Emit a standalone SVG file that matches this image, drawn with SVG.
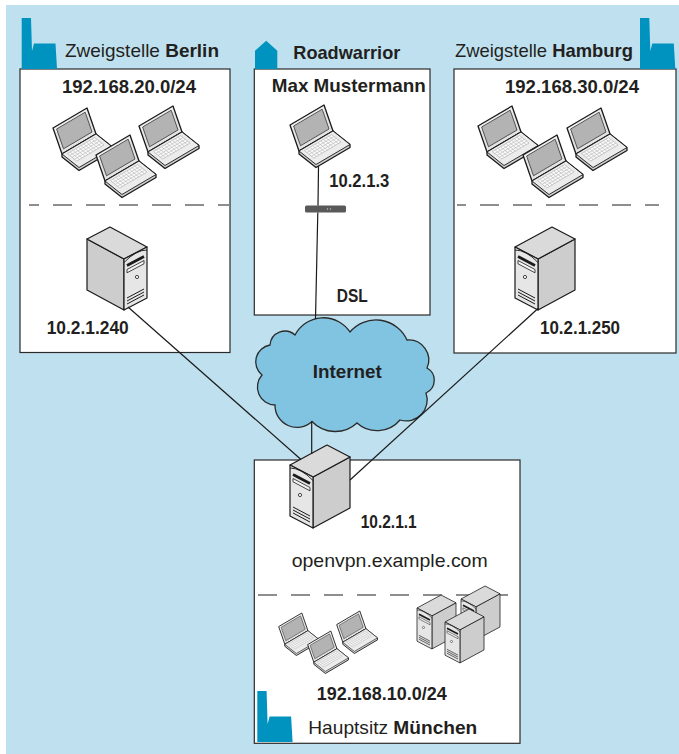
<svg xmlns="http://www.w3.org/2000/svg" xmlns:xlink="http://www.w3.org/1999/xlink" width="679" height="754" viewBox="0 0 679 754">
  <style>
    .bg { fill: #bfe1ef; }
    .box { fill: #ffffff; stroke: #2a2a2a; stroke-width: 1.2; }
    .dash { stroke: #1e1e1e; stroke-width: 1.2; stroke-dasharray: 19 14; fill: none; }
    .icon { fill: #0093bf; }
    .lbl { font-family: "Liberation Sans", Arial, sans-serif; font-size: 18.5px; fill: #231f20; }
    .b { font-weight: bold; }
    .wire { stroke: #1a1a1a; stroke-width: 1.2; fill: none; }
    .cloud { fill: #80c4e2; stroke: #2a2a2a; stroke-width: 1.3; }
  </style>
  <defs>
    <!-- isometric laptop, bounding box about 62 x 63 -->
    <g id="laptop">
      <polygon points="1,20 35,0 44,26 10,46" fill="#e4e4e4" stroke="#1a1a1a" stroke-width="1.3" stroke-linejoin="round"/>
      <polygon points="2.6,20.6 34.2,2 35.6,6 4,24.6" fill="#f4f4f4"/>
      <polygon points="4.6,21 33.2,4.2 40,24 11.5,40.8" fill="#b3b3b3" stroke="#333" stroke-width="0.8"/>
      <polygon points="10,46 44,26 61,39.5 61,42.5 27,62.5 10,49" fill="#cfcfcf" stroke="#1a1a1a" stroke-width="1.3" stroke-linejoin="round"/>
      <polygon points="10,46 44,26 61,39.5 27,59.5" fill="#ececec" stroke="#1a1a1a" stroke-width="0.9" stroke-linejoin="round"/>
      <polygon points="15.4,45.6 42.6,29.6 52,37 24.8,53" fill="#fafafa" stroke="#a8a8a8" stroke-width="0.6"/>
      <path d="M17.8,47.5 L45,31.5 M20.1,49.3 L47.3,33.3 M22.5,51.2 L49.7,35.2 M18.2,44 L27.5,51.5 M20.9,42.4 L30.2,49.9 M23.6,40.8 L33,48.3 M26.3,39.2 L35.7,46.7 M29,37.6 L38.4,45.1 M31.8,36 L41.1,43.5 M34.5,34.4 L43.8,41.9 M37.2,32.8 L46.6,40.3 M39.9,31.2 L49.3,38.7" stroke="#b4b4b4" stroke-width="0.6" fill="none"/>
    </g>
    <!-- tower server, origin at the outer corner of the front panel -->
    <g id="server">
      <polygon points="23,12 60,-8 60,43 23,63" fill="#cdcdcd" stroke="#1a1a1a" stroke-width="1.2" stroke-linejoin="round"/>
      <polygon points="0,0 37,-20 60,-8 23,12" fill="#dadada" stroke="#1a1a1a" stroke-width="1.2" stroke-linejoin="round"/>
      <polygon points="0,0 23,12 23,63 0,51" fill="#e6e6e6" stroke="#1a1a1a" stroke-width="1.2" stroke-linejoin="round"/>
      <path d="M0,3 Q11,3 23,15.5" fill="none" stroke="#1a1a1a" stroke-width="0.9"/>
      <path d="M3,9.5 L20,18.5" stroke="#1a1a1a" stroke-width="2.6"/>
      <polygon points="3,13.5 20,22.5 20,25.8 3,16.8" fill="#f4f4f4" stroke="#1a1a1a" stroke-width="0.8"/>
      <circle cx="10" cy="30" r="1.6" fill="#fff" stroke="#1a1a1a" stroke-width="0.8"/>
      <path d="M3,42 L20,51 M3,45 L20,54 M3,48 L20,57" stroke="#1a1a1a" stroke-width="1"/>
    </g>
    <!-- factory silhouette, origin at bottom left -->
    <path id="factory" d="M0,0 V-51 H9.3 L10.3,-18 L12.3,-25.5 H33.8 L35.3,0 Z"/>
  </defs>

  <rect x="0" y="0" width="679" height="754" fill="#ffffff"/>
  <rect class="bg" x="6" y="5" width="673" height="749"/>

  <g id="berlin">
    <rect class="box" x="20" y="69" width="210" height="283.5"/>
    <use href="#factory" class="icon" transform="translate(21.7,69)"/>
    <text class="lbl" x="65" y="57.3" textLength="154" lengthAdjust="spacingAndGlyphs">Zweigstelle <tspan class="b">Berlin</tspan></text>
    <text class="lbl b" x="62" y="93" textLength="134" lengthAdjust="spacingAndGlyphs">192.168.20.0/24</text>
    <use href="#laptop" transform="translate(52,108)"/>
    <use href="#laptop" transform="translate(138,106)"/>
    <use href="#laptop" transform="translate(95,135)"/>
    <line class="dash" x1="29" y1="205" x2="229" y2="205" stroke-dashoffset="9"/>
    <use href="#server" transform="translate(147,247) scale(-1,1)"/>
    <text class="lbl b" x="46.7" y="334" textLength="82" lengthAdjust="spacingAndGlyphs">10.2.1.240</text>
  </g>

  <g id="roadwarrior">
    <rect class="box" x="254.3" y="69" width="175.7" height="246"/>
    <path class="icon" d="M255,69 V50.7 L266.2,40.7 L277.3,50.7 V69 Z"/>
    <text class="lbl b" x="293.3" y="59.3" textLength="107" lengthAdjust="spacingAndGlyphs">Roadwarrior</text>
    <text class="lbl b" x="271.7" y="91.7" textLength="154" lengthAdjust="spacingAndGlyphs">Max Mustermann</text>
    <use href="#laptop" transform="translate(289,105)"/>
    <text class="lbl b" x="329.3" y="186.7" textLength="60" lengthAdjust="spacingAndGlyphs">10.2.1.3</text>
    <g id="dsl-modem">
      <rect x="305" y="205.5" width="41" height="7" rx="1.5" fill="#595959"/>
      <circle cx="327.5" cy="209" r="0.7" fill="#c8c8c8"/>
      <circle cx="330.5" cy="209" r="0.7" fill="#c8c8c8"/>
    </g>
    <text class="lbl b" x="336.7" y="301.7" textLength="31" lengthAdjust="spacingAndGlyphs">DSL</text>
  </g>

  <g id="hamburg">
    <rect class="box" x="454" y="69" width="222" height="284"/>
    <use href="#factory" class="icon" transform="translate(640,69)"/>
    <text class="lbl" x="455" y="57.3" textLength="178" lengthAdjust="spacingAndGlyphs">Zweigstelle <tspan class="b">Hamburg</tspan></text>
    <text class="lbl b" x="505" y="93.3" textLength="134" lengthAdjust="spacingAndGlyphs">192.168.30.0/24</text>
    <use href="#laptop" transform="translate(477,106)"/>
    <use href="#laptop" transform="translate(566,108)"/>
    <use href="#laptop" transform="translate(522,135)"/>
    <line class="dash" x1="457" y1="205" x2="659" y2="205" stroke-dashoffset="10"/>
    <use href="#server" transform="translate(515,247)"/>
    <text class="lbl b" x="540" y="334" textLength="80" lengthAdjust="spacingAndGlyphs">10.2.1.250</text>
  </g>

  <g id="internet">
    <path class="cloud" d="M295,335 A32,32 0 0 1 350,332 A34,34 0 0 1 407,340 A20,20 0 0 1 427,368 A14,14 0 0 1 426,393 A21,21 0 0 1 400,420 A30,30 0 0 1 357,423 A32,32 0 0 1 312,421.5 A22,22 0 0 1 275,405 A18,18 0 0 1 262,375 A17,17 0 0 1 270,345 A15,15 0 0 1 295,335 Z"/>
    <text class="lbl b" x="312.7" y="378.3" textLength="69" lengthAdjust="spacingAndGlyphs">Internet</text>
  </g>

  <g id="muenchen">
    <rect class="box" x="254.3" y="460" width="265.7" height="283.3"/>
    <use href="#server" transform="translate(290,465)"/>
    <text class="lbl b" x="360.7" y="528.3" textLength="56" lengthAdjust="spacingAndGlyphs">10.2.1.1</text>
    <text class="lbl" x="291.7" y="566.7" textLength="196" lengthAdjust="spacingAndGlyphs">openvpn.example.com</text>
    <line class="dash" x1="258" y1="595" x2="520" y2="595" stroke-dashoffset="0"/>
    <use href="#laptop" transform="translate(278,613) scale(0.68)"/>
    <use href="#laptop" transform="translate(336,611) scale(0.68)"/>
    <use href="#laptop" transform="translate(307,631) scale(0.68)"/>
    <use href="#server" transform="translate(461,599) scale(0.65)"/>
    <use href="#server" transform="translate(417,608) scale(0.65)"/>
    <use href="#server" transform="translate(445,622) scale(0.65)"/>
    <text class="lbl b" x="316.7" y="700" textLength="130" lengthAdjust="spacingAndGlyphs">192.168.10.0/24</text>
    <use href="#factory" class="icon" transform="translate(257.3,742)"/>
    <text class="lbl" x="308.3" y="734" textLength="169" lengthAdjust="spacingAndGlyphs">Hauptsitz <tspan class="b">München</tspan></text>
  </g>

  <!-- links, drawn last so they run over the box fills; each ends at an icon edge -->
  <g id="connectors">
    <line class="wire" x1="128" y1="307" x2="301" y2="459.5"/>
    <line class="wire" x1="538" y1="308.5" x2="350" y2="480"/>
    <line class="wire" x1="311.7" y1="421.5" x2="311.7" y2="454"/>
    <line class="wire" x1="318.5" y1="166" x2="318" y2="205.5"/>
    <line class="wire" x1="317.8" y1="212.5" x2="315.5" y2="319"/>
  </g>
</svg>
